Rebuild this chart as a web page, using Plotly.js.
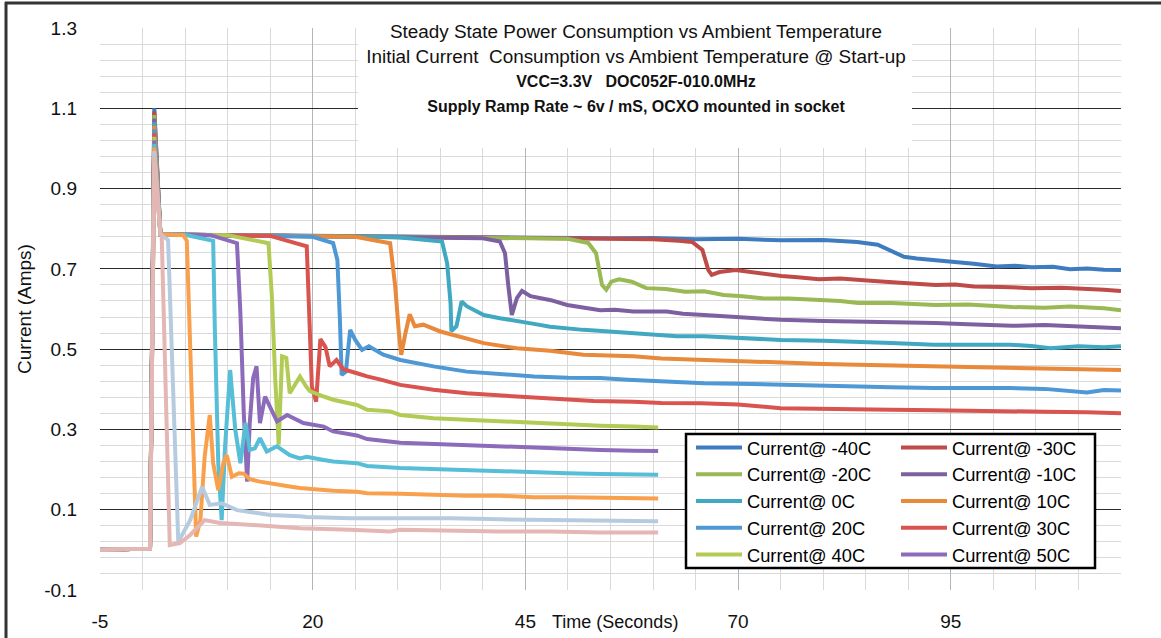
<!DOCTYPE html>
<html>
<head>
<meta charset="utf-8">
<script src="https://cdn.plot.ly/plotly-3.0.1.min.js"></script>
<style>
  html, body { margin: 0; padding: 0; background: #ffffff; }
  #chart { width: 1161px; height: 638px; }
</style>
</head>
<body>
<div id="chart"></div>
<script>
// ---------------- DATA ----------------
const seriesNames = [
  'Current@ -40C', 'Current@ -30C', 'Current@ -20C', 'Current@ -10C',
  'Current@ 0C', 'Current@ 10C', 'Current@ 20C', 'Current@ 30C',
  'Current@ 40C', 'Current@ 50C', 'Series 11', 'Series 12', 'Series 13', 'Series 14'
];

const t_m40 = [-5, 0.88, 1.38, 2.1, 5, 10, 15, 20, 25, 30, 35, 40, 45, 50, 55, 60, 65, 70, 75, 80, 84, 86.4, 88, 89.5, 91, 93.2, 95.4, 97.7, 100.4, 102.5, 104.5, 107, 109, 111, 113, 115];
const v_m40 = [0, 0.003, 1.100, 0.786, 0.785, 0.784, 0.782, 0.781, 0.780, 0.779, 0.778, 0.778, 0.777, 0.776, 0.776, 0.777, 0.774, 0.775, 0.771, 0.772, 0.767, 0.760, 0.745, 0.730, 0.726, 0.722, 0.716, 0.713, 0.706, 0.708, 0.704, 0.705, 0.699, 0.701, 0.698, 0.697];

const t_m30 = [-5, 0.88, 1.38, 2.1, 5, 10, 15, 20, 25, 30, 35, 40, 45, 50, 55, 60, 63, 64.6, 65.8, 66.5, 66.9, 67.8, 69.7, 72, 75.1, 77, 79.5, 82, 84.1, 86, 88.6, 91, 93.2, 95.5, 97.7, 101, 104.5, 108, 111.2, 113, 115];
const v_m30 = [0, 0.003, 1.092, 0.786, 0.785, 0.784, 0.783, 0.781, 0.780, 0.779, 0.779, 0.778, 0.777, 0.777, 0.776, 0.774, 0.770, 0.767, 0.747, 0.697, 0.685, 0.692, 0.697, 0.690, 0.682, 0.679, 0.674, 0.676, 0.672, 0.670, 0.666, 0.664, 0.660, 0.661, 0.656, 0.655, 0.652, 0.653, 0.651, 0.648, 0.645];

const t_m20 = [-5, 0.88, 1.38, 2.1, 5, 10, 15, 20, 25, 30, 35, 40, 45, 47.9, 50, 52.4, 53.3, 54.0, 54.5, 55.1, 56.0, 57.5, 59.2, 61.5, 63.8, 66, 68.3, 70.5, 72.8, 76, 79.6, 82, 84.1, 88, 93.2, 97, 102.2, 106, 109, 111.2, 113, 115];
const v_m20 = [0, 0.003, 1.083, 0.786, 0.785, 0.784, 0.783, 0.781, 0.780, 0.779, 0.778, 0.777, 0.777, 0.776, 0.775, 0.764, 0.739, 0.660, 0.648, 0.668, 0.674, 0.668, 0.652, 0.650, 0.643, 0.644, 0.635, 0.632, 0.627, 0.626, 0.622, 0.620, 0.615, 0.615, 0.610, 0.611, 0.605, 0.603, 0.606, 0.605, 0.602, 0.597];

const t_m10 = [-5, 0.88, 1.38, 2.1, 5, 10, 15, 20, 25, 30, 35, 40, 42.0, 42.6, 43.0, 43.4, 44.0, 44.6, 45.6, 46.7, 48, 49.9, 52, 53.8, 55.5, 57.7, 61.6, 63.5, 66, 70, 75, 80, 84.1, 88, 93.2, 97, 102.2, 106, 111, 113, 115];
const v_m10 = [0, 0.003, 1.074, 0.786, 0.785, 0.784, 0.783, 0.781, 0.780, 0.779, 0.778, 0.776, 0.768, 0.739, 0.656, 0.585, 0.627, 0.645, 0.632, 0.627, 0.622, 0.610, 0.603, 0.597, 0.598, 0.594, 0.594, 0.588, 0.585, 0.580, 0.573, 0.570, 0.569, 0.566, 0.565, 0.562, 0.558, 0.560, 0.556, 0.555, 0.552];

const t_0 = [-5, 0.88, 1.38, 2.1, 5, 10, 15, 20, 25, 30, 35.2, 35.8, 36.2, 36.3, 36.9, 37.5, 38.1, 40.1, 42, 44, 46, 47.9, 50, 51.8, 54, 57, 59, 62.8, 66, 70, 75, 80, 84, 88, 93, 97, 102, 104.5, 106.7, 110, 113, 115];
const v_0 = [0, 0.003, 1.065, 0.786, 0.785, 0.784, 0.783, 0.781, 0.780, 0.779, 0.768, 0.714, 0.615, 0.545, 0.557, 0.619, 0.607, 0.585, 0.577, 0.569, 0.563, 0.556, 0.551, 0.548, 0.545, 0.540, 0.539, 0.532, 0.532, 0.528, 0.523, 0.521, 0.519, 0.515, 0.511, 0.512, 0.511, 0.508, 0.502, 0.507, 0.505, 0.507];

const t_10 = [-5, 0.88, 1.38, 2.1, 5, 10, 15, 20, 25, 29.1, 29.7, 30.1, 30.4, 30.9, 31.4, 32.0, 33.0, 35.0, 37.3, 40.1, 44.0, 47.9, 51.8, 55, 57.7, 61, 65.6, 70, 75, 80, 84, 88, 93, 97, 102, 106, 110, 113, 115];
const v_10 = [0, 0.003, 1.056, 0.786, 0.785, 0.784, 0.783, 0.781, 0.780, 0.764, 0.656, 0.548, 0.486, 0.540, 0.587, 0.557, 0.561, 0.544, 0.532, 0.515, 0.502, 0.496, 0.486, 0.484, 0.482, 0.477, 0.473, 0.470, 0.465, 0.463, 0.461, 0.459, 0.457, 0.455, 0.452, 0.451, 0.450, 0.449, 0.448];

const t_20 = [-5, 0.88, 1.38, 2.1, 5, 10, 15, 20, 22.4, 22.9, 23.2, 23.4, 23.9, 24.4, 25.0, 25.8, 26.6, 28.3, 30.3, 34.2, 38.1, 42, 46, 50, 53.8, 57, 61.6, 66, 70, 75, 80, 84, 88, 93, 97, 102, 106, 109, 111, 113, 115];
const v_20 = [0, 0.003, 1.047, 0.786, 0.785, 0.784, 0.783, 0.780, 0.764, 0.722, 0.572, 0.436, 0.444, 0.548, 0.523, 0.498, 0.507, 0.486, 0.473, 0.457, 0.444, 0.438, 0.432, 0.429, 0.428, 0.424, 0.419, 0.415, 0.414, 0.411, 0.409, 0.407, 0.405, 0.403, 0.404, 0.403, 0.401, 0.396, 0.392, 0.398, 0.397];

const t_30 = [-5, 0.88, 1.38, 2.1, 5, 10, 15, 19.3, 19.7, 19.9, 20.4, 20.9, 21.5, 22.0, 22.8, 23.6, 25.2, 26.4, 28, 30.3, 34.2, 38.1, 44, 49.9, 53, 57.7, 61, 65.6, 70, 75, 80, 84, 88, 93, 97, 102, 106, 111, 113, 115];
const v_30 = [0, 0.003, 1.038, 0.786, 0.785, 0.784, 0.782, 0.756, 0.548, 0.407, 0.369, 0.525, 0.505, 0.457, 0.473, 0.450, 0.440, 0.432, 0.424, 0.411, 0.399, 0.390, 0.382, 0.374, 0.371, 0.369, 0.366, 0.365, 0.362, 0.353, 0.351, 0.349, 0.349, 0.348, 0.346, 0.345, 0.344, 0.343, 0.341, 0.340];

const t_40 = [-5, 0.88, 1.38, 2.1, 5, 10, 14.8, 15.2, 15.6, 16.0, 16.4, 16.9, 17.3, 18.5, 19.3, 19.7, 21.3, 22.4, 25.2, 26.4, 29.1, 30.3, 34.2, 38.1, 42, 46, 49.9, 53.8, 57.7, 60.6];
const v_40 = [0, 0.003, 1.029, 0.786, 0.785, 0.784, 0.764, 0.632, 0.424, 0.262, 0.482, 0.478, 0.390, 0.432, 0.405, 0.395, 0.382, 0.374, 0.361, 0.349, 0.345, 0.336, 0.328, 0.324, 0.320, 0.316, 0.311, 0.309, 0.307, 0.305];

const t_50 = [-5, 0.88, 1.38, 2.1, 5, 8, 11.1, 11.5, 11.9, 12.3, 12.6, 13.0, 13.4, 13.8, 14.4, 15.2, 15.8, 17.0, 18.9, 21.3, 22.4, 25.2, 26.4, 30.3, 34.2, 38.1, 42, 46, 49.9, 53.8, 57.7, 60.6];
const v_50 = [0, 0.003, 1.020, 0.786, 0.785, 0.784, 0.764, 0.590, 0.340, 0.170, 0.316, 0.428, 0.457, 0.316, 0.382, 0.349, 0.320, 0.336, 0.316, 0.307, 0.295, 0.285, 0.276, 0.267, 0.264, 0.259, 0.256, 0.253, 0.251, 0.249, 0.247, 0.246];

const t_s11 = [-5, 0.88, 1.38, 2.1, 5, 8.3, 8.5, 8.9, 9.3, 9.7, 10.3, 10.9, 11.5, 12.1, 12.6, 13.2, 13.8, 14.6, 15.8, 17.3, 18.5, 19.3, 21.3, 22.4, 25.2, 26.4, 30.3, 34.2, 38.1, 42, 46, 49.9, 53.8, 57.7, 60.6];
const v_s11 = [0, 0.003, 1.011, 0.786, 0.785, 0.770, 0.548, 0.216, 0.074, 0.258, 0.448, 0.299, 0.216, 0.316, 0.249, 0.253, 0.278, 0.245, 0.258, 0.236, 0.228, 0.232, 0.224, 0.220, 0.216, 0.209, 0.204, 0.201, 0.198, 0.195, 0.193, 0.191, 0.189, 0.189, 0.187];

const t_s12 = [-5, 0.88, 1.38, 2.1, 4.8, 5.2, 5.6, 6.0, 6.3, 6.8, 7.3, 7.9, 8.3, 8.9, 9.5, 9.9, 10.5, 11.3, 11.9, 12.6, 13.8, 17.3, 18.5, 21.3, 22.4, 25.2, 26.4, 30.3, 34.2, 38.1, 42, 46, 49.9, 53.8, 57.7, 60.6];
const v_s12 = [0, 0.003, 1.002, 0.786, 0.784, 0.770, 0.507, 0.216, 0.033, 0.074, 0.232, 0.336, 0.216, 0.149, 0.216, 0.236, 0.182, 0.191, 0.190, 0.176, 0.170, 0.158, 0.154, 0.149, 0.147, 0.145, 0.141, 0.140, 0.137, 0.135, 0.135, 0.131, 0.131, 0.129, 0.129, 0.128];

const t_s13 = [-5, 0.88, 1.38, 2.1, 3.0, 4.2, 5.6, 7.0, 7.9, 9.3, 11.1, 15.0, 18.5, 19.3, 24.4, 29.1, 30.3, 36.2, 42, 47.9, 53.8, 60.6];
const v_s13 = [0, 0.003, 0.993, 0.786, 0.772, 0.020, 0.074, 0.157, 0.112, 0.116, 0.099, 0.087, 0.084, 0.082, 0.079, 0.079, 0.080, 0.079, 0.076, 0.075, 0.072, 0.071];

const t_s14 = [-5, 0.88, 1.38, 2.1, 2.25, 3.2, 4.4, 5.6, 7.3, 9.1, 11.5, 17.3, 18.5, 24.4, 29.1, 30.3, 36.2, 42, 47.9, 53.8, 60.6];
const v_s14 = [0, 0.003, 0.980, 0.786, 0.782, 0.012, 0.017, 0.037, 0.074, 0.067, 0.064, 0.054, 0.054, 0.050, 0.046, 0.050, 0.047, 0.046, 0.046, 0.043, 0.043];

const xTickVals = [-5, 20, 45, 70, 95];
const xTickText = ['-5', '20', '45', '70', '95'];
const yTickVals = [-0.1, 0.1, 0.3, 0.5, 0.7, 0.9, 1.1, 1.3];
const yTickText = ['-0.1', '0.1', '0.3', '0.5', '0.7', '0.9', '1.1', '1.3'];

// ---------------- STYLE ----------------
const FONT = 'Liberation Sans, Arial, sans-serif';
const colors = ['#3F7CBF', '#BE4B48', '#98B954', '#7D60A0', '#40A8C0', '#E8893B',
                '#4D98D5', '#D9534F', '#B2CB55', '#8C6BBA', '#56BED6', '#F9A04D',
                '#B7CBE0', '#E4B6B4'];
const tData = [t_m40, t_m30, t_m20, t_m10, t_0, t_10, t_20, t_30, t_40, t_50, t_s11, t_s12, t_s13, t_s14];
const vData = [v_m40, v_m30, v_m20, v_m10, v_0, v_10, v_20, v_30, v_40, v_50, v_s11, v_s12, v_s13, v_s14];

const traces = seriesNames.map(function (name, i) {
  return {
    type: 'scatter',
    mode: 'lines',
    name: name,
    x: tData[i],
    y: vData[i],
    line: { color: colors[i], width: 4 },
    showlegend: i < 10,
    legend: (i % 2 === 0) ? 'legend' : 'legend2',
    hoverinfo: 'x+y+name'
  };
});

// paper-coordinate helpers (plot area: x 100..1121 px, y 28..590 px)
function px(xp) { return (xp - 100) / 1021; }
function py(yp) { return (590 - yp) / 562; }

const legendCommon = {
  bgcolor: 'rgba(0,0,0,0)',
  borderwidth: 0,
  font: { family: FONT, size: 18.3, color: '#000' },
  itemwidth: 46,
  xanchor: 'left',
  yanchor: 'top',
  tracegroupgap: 0
};

const layout = {
  width: 1161,
  height: 638,
  margin: { l: 100, r: 40, t: 28, b: 48 },
  paper_bgcolor: '#ffffff',
  plot_bgcolor: '#ffffff',
  font: { family: FONT, color: '#000' },
  showlegend: true,
  title: {
    text: 'Steady State Power Consumption vs Ambient Temperature<br>' +
          'Initial Current  Consumption vs Ambient Temperature @ Start-up<br>' +
          '<b><span style="font-size:16px">VCC=3.3V   DOC052F-010.0MHz</span></b><br>' +
          '<b><span style="font-size:16px">Supply Ramp Rate ~ 6v / mS, OCXO mounted in socket</span></b>',
    font: { family: FONT, size: 18.9, color: '#111' },
    x: 636 / 1161,
    xanchor: 'center',
    xref: 'container',
    y: 1 - 38 / 638,
    yref: 'container',
    yanchor: 'top'
  },
  xaxis: {
    range: [-5, 115],
    tickmode: 'array',
    tickvals: xTickVals,
    ticktext: xTickText,
    ticks: '',
    ticklabelstandoff: 18,
    tickfont: { family: FONT, size: 19, color: '#111' },
    showgrid: true,
    gridcolor: '#b5b5b5',
    gridwidth: 1,
    zeroline: false,
    showline: false,
    minor: { tickmode: 'linear', tick0: -5, dtick: 5, showgrid: true, gridcolor: '#d9d9d9', gridwidth: 1 },
    fixedrange: true
  },
  yaxis: {
    range: [-0.1, 1.3],
    tickmode: 'array',
    tickvals: yTickVals,
    ticktext: yTickText,
    ticks: '',
    ticklabelstandoff: 22,
    tickfont: { family: FONT, size: 19, color: '#111' },
    showgrid: true,
    gridcolor: '#2a2a2a',
    gridwidth: 1,
    zeroline: false,
    showline: false,
    minor: { tickmode: 'linear', tick0: -0.1, dtick: 0.04, showgrid: true, gridcolor: '#d9d9d9', gridwidth: 1 },
    title: { text: 'Current (Amps)', font: { family: FONT, size: 19, color: '#111' }, standoff: 7 },
    fixedrange: true
  },
  legend: Object.assign({ x: px(691), y: py(429) }, legendCommon),
  legend2: Object.assign({ x: px(896), y: py(429) }, legendCommon),
  shapes: [
    // white background behind the title block
    { type: 'rect', xref: 'paper', yref: 'paper', x0: px(358), x1: px(912), y0: py(148), y1: py(8),
      fillcolor: '#ffffff', line: { width: 0 }, layer: 'above' },
    // legend frame
    { type: 'rect', xref: 'paper', yref: 'paper', x0: px(686), x1: px(1095), y0: py(568), y1: py(434),
      fillcolor: '#ffffff', line: { color: '#000', width: 2.5 }, layer: 'above' },
    // outer chart frame (top and left edges visible)
    { type: 'line', xref: 'paper', yref: 'paper', x0: px(5), x1: px(1161), y0: py(3), y1: py(3),
      line: { color: '#333', width: 3 }, layer: 'above' },
    { type: 'line', xref: 'paper', yref: 'paper', x0: px(6), x1: px(6), y0: py(2), y1: py(638),
      line: { color: '#333', width: 3 }, layer: 'above' }
  ],
  annotations: [
    { text: 'Time (Seconds)', xref: 'paper', yref: 'paper', x: px(615), y: py(622),
      xanchor: 'center', yanchor: 'middle', showarrow: false,
      font: { family: FONT, size: 18, color: '#111' } }
  ]
};

Plotly.newPlot('chart', traces, layout, { displayModeBar: false, staticPlot: true });
</script>
</body>
</html>
